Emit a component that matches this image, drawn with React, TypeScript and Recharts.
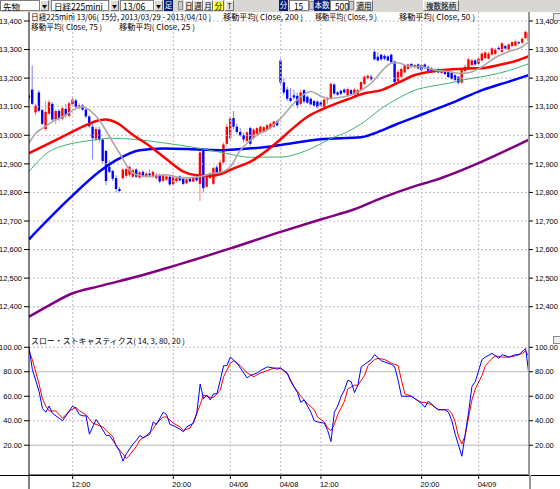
import React from 'react';
import { ComposedChart, Bar, Line, XAxis, YAxis, ReferenceLine } from 'recharts';

// ---- data ----
const timeTickIdx = [13, 43, 60, 75, 87, 117, 134];
const timeTickLabels = ['12:00', '20:00', '04/06', '04/08', '12:00', '20:00', '04/09'];
const priceTicks = [12400, 12500, 12600, 12700, 12800, 12900, 13000, 13100, 13200, 13300, 13400];
const stochTicks = [20, 40, 60, 80, 100];

const opens = [
  13140, 13160, 13080, 13150, 13088, 13022, 13076, 13110, 13055, 13085,
  13058, 13092, 13068, 13108, 13122, 13100, 13104, 13090, 13066, 13030,
  12988, 13020, 12985, 12945, 12890, 12875, 12850, 12812, 12850, 12858,
  12862, 12855, 12880, 12852, 12872, 12855, 12866, 12855, 12850, 12862,
  12840, 12845, 12855, 12828, 12840, 12856, 12850, 12832, 12848, 12838,
  12852, 12830, 12945, 12820, 12850, 12830, 12888, 12870, 12905, 12970,
  12990, 13060, 13030, 13012, 13000, 12980, 13025, 12990, 13005, 13010,
  13012, 13020, 13025, 13030, 13050,
  13262, 13185, 13160, 13130, 13140, 13138, 13110, 13158, 13135, 13128,
  13120, 13118, 13115, 13100, 13125, 13130, 13178, 13150, 13156, 13160,
  13140, 13158, 13142, 13145, 13158, 13180, 13200, 13205, 13292, 13275,
  13282, 13278, 13276, 13282, 13258, 13190, 13205, 13220, 13232, 13250,
  13238, 13248, 13246, 13248, 13240, 13234, 13230, 13232, 13218, 13228,
  13222, 13218, 13210, 13205, 13185, 13225, 13234, 13246, 13262, 13250,
  13262, 13270, 13268, 13282, 13285, 13306, 13292, 13312, 13300, 13312,
  13314, 13326, 13324, 13340, 13360,
];
const highs = [
  13150, 13245, 13112, 13158, 13092, 13120, 13125, 13116, 13090, 13092,
  13102, 13110, 13118, 13135, 13128, 13112, 13110, 13095, 13070, 13040,
  13030, 13030, 12990, 12950, 12912, 12880, 12860, 12820, 12885, 12888,
  12895, 12885, 12885, 12875, 12878, 12872, 12880, 12878, 12868, 12866,
  12866, 12862, 12858, 12862, 12855, 12860, 12855, 12850, 12852, 12858,
  12856, 12950, 12950, 12862, 12872, 12890, 12895, 12915, 12975, 13040,
  13065, 13085, 13040, 13025, 13010, 13015, 13030, 13025, 13030, 13035,
  13033, 13040, 13045, 13052, 13055,
  13268, 13200, 13170, 13165, 13160, 13150, 13160, 13162, 13140, 13132,
  13125, 13122, 13120, 13130, 13135, 13185, 13182, 13155, 13160, 13165,
  13168, 13162, 13166, 13162, 13190, 13210, 13214, 13212, 13298, 13290,
  13286, 13284, 13280, 13286, 13262, 13230, 13238, 13250, 13252, 13252,
  13250, 13252, 13250, 13252, 13244, 13238, 13234, 13236, 13232, 13232,
  13226, 13222, 13214, 13208, 13235, 13248, 13272, 13268, 13266, 13272,
  13290, 13295, 13292, 13308, 13306, 13312, 13326, 13316, 13322, 13330,
  13332, 13330, 13342, 13366, 13368,
];
const lows = [
  13120, 13105, 13070, 13080, 13036, 13015, 13070, 13048, 13040, 13050,
  13052, 13060, 13062, 13100, 13095, 13090, 13085, 13060, 13025, 12915,
  12980, 12975, 12900, 12826, 12868, 12840, 12800, 12800, 12845, 12850,
  12855, 12850, 12850, 12848, 12852, 12850, 12852, 12850, 12845, 12832,
  12835, 12840, 12822, 12825, 12835, 12838, 12826, 12828, 12835, 12835,
  12838, 12770, 12800, 12815, 12845, 12825, 12860, 12865, 12900, 12965,
  12985, 13020, 13005, 12995, 12975, 12975, 12962, 12985, 13000, 13005,
  13008, 13015, 13020, 13025, 13030,
  13175, 13140, 13120, 13115, 13125, 13094, 13105, 13112, 13110, 13105,
  13100, 13094, 13100, 13096, 13110, 13125, 13140, 13138, 13140, 13145,
  13136, 13140, 13138, 13140, 13155, 13176, 13195, 13190, 13262, 13258,
  13260, 13262, 13258, 13252, 13180, 13185, 13200, 13216, 13228, 13236,
  13234, 13230, 13222, 13232, 13222, 13220, 13218, 13216, 13214, 13210,
  13200, 13194, 13190, 13178, 13180, 13220, 13230, 13240, 13244, 13246,
  13258, 13266, 13265, 13278, 13280, 13296, 13288, 13300, 13296, 13308,
  13310, 13318, 13320, 13338, 13325,
];
const closes = [
  13130, 13110, 13104, 13086, 13040, 13082, 13116, 13055, 13085, 13058,
  13095, 13070, 13112, 13125, 13100, 13105, 13090, 13066, 13032, 12990,
  13022, 12985, 12910, 12840, 12872, 12848, 12812, 12805, 12880, 12882,
  12890, 12878, 12855, 12870, 12858, 12866, 12860, 12872, 12862, 12838,
  12860, 12856, 12828, 12855, 12850, 12842, 12830, 12846, 12838, 12852,
  12842, 12940, 12815, 12855, 12866, 12885, 12868, 12905, 12968, 13030,
  13058, 13030, 13012, 13000, 12985, 13010, 12970, 13020, 13025, 13030,
  13028, 13035, 13040, 13048, 13035,
  13185, 13150, 13128, 13120, 13132, 13105, 13150, 13118, 13114, 13108,
  13104, 13098, 13104, 13125, 13130, 13180, 13146, 13142, 13145, 13150,
  13162, 13145, 13160, 13158, 13186, 13205, 13208, 13196, 13266, 13262,
  13266, 13268, 13262, 13256, 13186, 13222, 13232, 13245, 13248, 13240,
  13246, 13234, 13228, 13236, 13226, 13224, 13222, 13220, 13228, 13214,
  13204, 13198, 13194, 13184, 13228, 13240, 13266, 13262, 13248, 13268,
  13286, 13290, 13286, 13304, 13300, 13300, 13322, 13304, 13318, 13326,
  13328, 13322, 13338, 13362, 13330,
];

const ma200: [number, number][] = [
  [0, 12365], [6, 12405], [13, 12447], [21, 12472], [34, 12511], [43, 12542], [60, 12604],
  [75, 12662], [88, 12709], [97, 12741], [105, 12780], [115, 12822], [121, 12843],
  [135, 12908], [149, 12985],
];
const ma75: [number, number][] = [
  [0, 12636], [12, 12778], [21, 12873], [26, 12913], [33, 12948], [40, 12954], [51, 12950],
  [57, 12948], [63, 12952], [70, 12958], [75, 12966], [87, 12986], [99, 12993], [103, 13007],
  [109, 13036], [118, 13077], [127, 13118], [135, 13158], [143, 13188], [149, 13211],
];
const ma50: [number, number][] = [
  [0, 12937], [6, 12972], [11, 13001], [16, 13030], [21, 13053], [23, 13055], [26, 13044],
  [31, 13001], [36, 12962], [41, 12916], [46, 12873], [50, 12860], [54, 12858], [58, 12868],
  [61, 12884], [66, 12908], [71, 12948], [75, 12986], [78, 13018], [83, 13065], [88, 13094],
  [95, 13126], [100, 13147], [105, 13158], [110, 13184], [115, 13211], [121, 13225],
  [126, 13231], [131, 13234], [135, 13235], [140, 13246], [145, 13260], [149, 13277],
];
const ma25: [number, number][] = [
  [0, 12873], [6, 12943], [11, 12966], [16, 12978], [21, 12986], [24, 12990], [31, 12986],
  [41, 12972], [51, 12954], [56, 12943], [61, 12931], [66, 12923], [75, 12924], [83, 12948],
  [90, 12989], [95, 13013], [100, 13048], [105, 13094], [110, 13129], [115, 13158],
  [120, 13172], [125, 13182], [129, 13193], [135, 13205], [140, 13217], [145, 13234], [149, 13251],
];
const ma9: [number, number][] = [
  [0, 12972], [2, 13007], [4, 13024], [7, 13048], [11, 13071], [14, 13094], [16, 13100],
  [18, 13088], [21, 13053], [24, 12995], [27, 12937], [30, 12879], [32, 12862], [36, 12856],
  [41, 12862], [46, 12850], [51, 12856], [55, 12867], [57, 12870], [60, 12890], [63, 12948],
  [65, 12972], [68, 13001], [71, 13018], [75, 13059], [78, 13100], [81, 13135], [84, 13153],
  [87, 13137], [90, 13129], [93, 13133], [96, 13141], [99, 13158], [102, 13182], [105, 13223],
  [108, 13252], [110, 13254], [113, 13242], [117, 13240], [121, 13228], [125, 13223],
  [128, 13217], [131, 13219], [135, 13240], [139, 13272], [143, 13293], [147, 13310], [149, 13328],
];

const stochK: [number, number][] = [
  [0, 100], [1, 82], [3, 64], [4, 50], [5, 47], [6, 52], [7, 46], [9, 42], [10, 40], [11, 44],
  [13, 52], [14, 50], [15, 45], [16, 44], [17, 44], [18, 29], [19, 35], [20, 41], [21, 37],
  [23, 28], [24, 28], [26, 20], [27, 15], [28, 7], [29, 13], [31, 21], [32, 24], [33, 28],
  [34, 26], [36, 29], [37, 39], [38, 37], [40, 47], [41, 45], [42, 37], [43, 36], [45, 33],
  [46, 31], [47, 35], [49, 38], [50, 46], [51, 70], [52, 58], [53, 61], [54, 57], [55, 62],
  [56, 62], [57, 73], [58, 85], [59, 85], [60, 92], [62, 87], [63, 83], [65, 75], [66, 77],
  [68, 79], [69, 81], [71, 84], [73, 83], [74, 83], [75, 83], [77, 79], [78, 72], [80, 63],
  [81, 55], [82, 57], [84, 47], [85, 40], [86, 39], [88, 38], [89, 32], [90, 23], [91, 47],
  [92, 52], [93, 60], [94, 65], [95, 73], [96, 72], [97, 63], [98, 69], [99, 84], [101, 88],
  [102, 90], [103, 94], [105, 89], [106, 88], [108, 86], [109, 84], [110, 73], [111, 60],
  [113, 60], [114, 60], [116, 56], [117, 54], [118, 51], [119, 56], [121, 51], [122, 49],
  [124, 49], [125, 47], [126, 40], [127, 29], [129, 11], [130, 29], [131, 47], [132, 68],
  [133, 72], [134, 81], [135, 90], [136, 92], [138, 95], [140, 91], [141, 94], [143, 92],
  [145, 94], [146, 94], [148, 99], [149, 77],
];
const stochD: [number, number][] = [
  [0, 97], [1, 90], [3, 70], [4, 58], [5, 52], [6, 48], [8, 48], [10, 42], [12, 48], [14, 51],
  [15, 48], [17, 45], [19, 38], [20, 37], [22, 35], [23, 32], [25, 27], [26, 19], [28, 13],
  [29, 9], [30, 12], [32, 19], [33, 24], [35, 28], [37, 33], [38, 38], [40, 43], [41, 43],
  [43, 38], [45, 35], [46, 32], [48, 34], [49, 39], [51, 53], [52, 61], [54, 59], [55, 59],
  [57, 65], [58, 76], [60, 87], [61, 89], [63, 85], [65, 79], [67, 76], [69, 79], [71, 81],
  [73, 83], [74, 82], [75, 83], [77, 78], [79, 68], [81, 60], [83, 54], [85, 49], [86, 43],
  [88, 39], [89, 34], [90, 32], [91, 37], [92, 45], [94, 56], [95, 66], [97, 69], [98, 69],
  [100, 77], [101, 85], [103, 90], [104, 91], [106, 90], [108, 87], [110, 85], [111, 73],
  [112, 62], [114, 60], [115, 58], [117, 55], [118, 55], [120, 53], [122, 49], [123, 49],
  [125, 49], [126, 46], [127, 39], [128, 27], [129, 21], [130, 28], [131, 43], [132, 57],
  [133, 66], [135, 77], [136, 85], [138, 91], [139, 93], [141, 92], [143, 92], [145, 93],
  [147, 95], [148, 97], [149, 92],
];

// ---- tables ----
const toMap = (arr: [number, number][]) => new Map(arr.map(([i, v]) => [i, v]));
const m200 = toMap(ma200), m75 = toMap(ma75), m50 = toMap(ma50), m25 = toMap(ma25), m9 = toMap(ma9);
const mk = toMap(stochK), md = toMap(stochD);

const rows = closes.map((c, i) => ({
  i,
  o: opens[i], h: highs[i], l: lows[i], c,
  range: [lows[i], highs[i]],
  ma200: m200.get(i) ?? null,
  ma75: m75.get(i) ?? null,
  ma50: m50.get(i) ?? null,
  ma25: m25.get(i) ?? null,
  ma9: m9.get(i) ?? null,
}));
const stochRows = closes.map((_, i) => ({ i, k: mk.get(i) ?? null, d: md.get(i) ?? null }));

// ---- styling helpers ----
const GRID = '#c4b6cc';
const AX_FONT = 'Liberation Sans, Arial, sans-serif';
const JP_FONT = '"Noto Sans CJK JP", sans-serif';
const fmtPrice = (v: number) => v.toLocaleString('en-US');

const Candle = (props: any) => {
  const { x, y, width, height, payload } = props;
  if (!payload || x == null) return null;
  const top = Math.min(y, y + height);
  const bot = Math.max(y, y + height);
  const { o, h, l, c } = payload;
  const span = h - l;
  const px = (v: number) => (span > 0 ? top + ((h - v) / span) * (bot - top) : top);
  const cx = x + width / 2;
  const up = c >= o;
  const col = up ? '#ff0000' : '#0000ff';
  const bt = px(Math.max(o, c));
  const bb = px(Math.min(o, c));
  return (
    <g>
      <line x1={cx} x2={cx} y1={top} y2={bot} stroke={col} strokeOpacity={0.5} strokeWidth={1} />
      <rect x={cx - 1.2} y={bt} width={2.4} height={Math.max(1, bb - bt)} fill={col} />
    </g>
  );
};

const TimeTick = (props: any) => {
  const { x, y, payload } = props;
  const idx = timeTickIdx.indexOf(payload.value);
  return (
    <text x={x - 1} y={y + 6} fontSize={7.5} fontFamily={AX_FONT} fill="#000" textAnchor="start">
      {timeTickLabels[idx]}
    </text>
  );
};

const box = (x: number, w: number, bg: string, extra: any = {}) => ({
  position: 'absolute' as const, left: x, top: 0, width: w, height: 11, background: bg,
  boxSizing: 'border-box' as const, fontSize: 8, lineHeight: '10px', fontFamily: JP_FONT,
  overflow: 'visible', whiteSpace: 'nowrap' as const, padding: 0, ...extra,
});
const field = (x: number, w: number) => box(x, w, '#fff', { border: '1px solid #7f7f7f', paddingLeft: 2, color: '#000', fontSize: 8.5 });
const btn = (x: number, w: number, bg = '#e4e2de') => box(x, w, bg, { border: '1px solid', borderColor: '#fff #6f6f6f #6f6f6f #fff', textAlign: 'center', color: '#000', fontSize: 7.5 });
const navy = (x: number, w: number) => box(x, w, '#0a1f78', { color: '#fff', textAlign: 'center', fontSize: 7.5 });
const arrow = (x: number) => box(x, 9, '#dcdad6', { border: '1px solid', borderColor: '#fff #6f6f6f #6f6f6f #fff', fontSize: 5, lineHeight: '9px', textAlign: 'center', color: '#000' });
const spin = (x: number) => box(x, 5, '#cfcdc9', { border: '1px solid #8a8a8a', top: 1, height: 9 });

const Toolbar = () => (
  <div style={{ position: 'absolute', left: 0, top: 0, width: 560, height: 12, background: '#d9d7d3' }}>
    <div style={field(0, 40)}>先物</div>
    <div style={arrow(40)}>▼</div>
    <div style={field(51, 58)}>日経225mini</div>
    <div style={arrow(110)}>▼</div>
    <div style={field(120, 34)}>13/06</div>
    <div style={arrow(154)}>▼</div>
    <div style={navy(164, 9)}>足</div>
    <div style={spin(178)} />
    <div style={btn(184, 9)}>日</div>
    <div style={btn(193, 10)}>週</div>
    <div style={btn(203, 10)}>月</div>
    <div style={btn(213, 11, '#ffff33')}>分</div>
    <div style={btn(225, 9)}>T</div>
    <div style={navy(279, 9)}>分</div>
    <div style={field(289, 20)}>&nbsp;15</div>
    <div style={spin(309)} />
    <div style={navy(314, 16)}>本数</div>
    <div style={field(330, 19)}>&nbsp;500</div>
    <div style={spin(349)} />
    <div style={btn(355, 18)}>適用</div>
    <div style={btn(423, 36)}>複数銘柄</div>
  </div>
);

const legendRow1: [string, number, number][] = [
  ['日経225mini 13/06( 15分, 2013/03/29 - 2013/04/10 )', 31, 180],
  ['移動平均( Close, 200 )', 223, 80],
  ['移動平均( Close, 9 )', 315, 62],
  ['移動平均( Close, 50 )', 399, 76],
];
const legendRow2: [string, number, number][] = [
  ['移動平均( Close, 75 )', 31, 71],
  ['移動平均( Close, 25 )', 119, 76],
];

export default function App() {
  const lineProps = { yAxisId: 'L', dot: false, activeDot: false, connectNulls: true, isAnimationActive: false } as any;
  return (
    <div style={{ position: 'absolute', left: 0, top: 0, width: 560, height: 489, background: '#fff', overflow: 'hidden' }}>
      <Toolbar />
      <div style={{ position: 'absolute', left: 0, top: 12 }}>
        <ComposedChart width={560} height={318} data={rows} margin={{ top: 0, right: 0, bottom: 0, left: 0 }}>
          <XAxis dataKey="i" type="number" domain={[0, 149]} hide allowDataOverflow />
          <YAxis yAxisId="L" orientation="left" width={29} domain={[12318.5, 13431.5]} ticks={priceTicks}
            allowDataOverflow interval={0} tickFormatter={fmtPrice} tickSize={5} tickMargin={2}
            tick={{ fontSize: 7.5, fill: '#000', fontFamily: AX_FONT }} axisLine={{ stroke: '#000' }} tickLine={{ stroke: '#000' }} />
          <YAxis yAxisId="R" orientation="right" width={31} domain={[12318.5, 13431.5]} ticks={priceTicks}
            allowDataOverflow interval={0} tickFormatter={fmtPrice} tickSize={4} tickMargin={2}
            tick={{ fontSize: 7.5, fill: '#000', fontFamily: AX_FONT }} axisLine={{ stroke: '#9a9a9a', strokeWidth: 2 }} tickLine={{ stroke: '#000' }} />
          {priceTicks.map((t) => (
            <ReferenceLine key={'h' + t} yAxisId="L" y={t} stroke={GRID} strokeDasharray="2 2" />
          ))}
          {timeTickIdx.map((t) => (
            <ReferenceLine key={'v' + t} yAxisId="L" x={t} stroke={GRID} strokeDasharray="2 2" />
          ))}
          <Line {...lineProps} dataKey="ma200" type="monotone" stroke="#800080" strokeWidth={2.5} />
          <Line {...lineProps} dataKey="ma75" type="monotone" stroke="#0000ff" strokeWidth={2.5} />
          <Line {...lineProps} dataKey="ma25" type="monotone" stroke="#3cb371" strokeWidth={1} />
          <Line {...lineProps} dataKey="ma50" type="monotone" stroke="#ff0000" strokeWidth={2.5} />
          <Bar yAxisId="L" dataKey="range" barSize={3} shape={<Candle />} isAnimationActive={false} />
          <Line {...lineProps} dataKey="ma9" type="monotone" stroke="#a8a8a8" strokeWidth={1.6} />
        </ComposedChart>
      </div>
      <div style={{ position: 'absolute', left: 0, top: 330 }}>
        <ComposedChart width={560} height={159} data={stochRows} margin={{ top: 0, right: 0, bottom: 0, left: 0 }}>
          <XAxis dataKey="i" type="number" domain={[0, 149]} ticks={timeTickIdx} interval={0} height={14}
            tickSize={4} tick={<TimeTick />} axisLine={{ stroke: '#000' }} tickLine={{ stroke: '#000' }} allowDataOverflow />
          <YAxis yAxisId="L" orientation="left" width={29} domain={[-4.33, 114.13]} ticks={stochTicks}
            allowDataOverflow interval={0} tickFormatter={(v: number) => v.toFixed(2)} tickSize={5} tickMargin={2}
            tick={{ fontSize: 7.5, fill: '#000', fontFamily: AX_FONT }} axisLine={{ stroke: '#000' }} tickLine={{ stroke: '#000' }} />
          <YAxis yAxisId="R" orientation="right" width={31} domain={[-4.33, 114.13]} ticks={stochTicks}
            allowDataOverflow interval={0} tickFormatter={(v: number) => v.toFixed(2)} tickSize={4} tickMargin={2}
            tick={{ fontSize: 7.5, fill: '#000', fontFamily: AX_FONT }} axisLine={{ stroke: '#9a9a9a', strokeWidth: 2 }} tickLine={{ stroke: '#000' }} />
          {stochTicks.map((t) => (
            t === 80 || t === 20
              ? <ReferenceLine key={'h' + t} yAxisId="L" y={t} stroke="#b8b8b8" />
              : <ReferenceLine key={'h' + t} yAxisId="L" y={t} stroke={GRID} strokeDasharray="2 2" />
          ))}
          {timeTickIdx.map((t) => (
            <ReferenceLine key={'v' + t} yAxisId="L" x={t} stroke={GRID} strokeDasharray="2 2" />
          ))}
          <Line {...lineProps} dataKey="d" type="linear" stroke="#ff0000" strokeWidth={1} />
          <Line {...lineProps} dataKey="k" type="linear" stroke="#0000ff" strokeWidth={1} />
        </ComposedChart>
      </div>
      <svg width={560} height={489} style={{ position: 'absolute', left: 0, top: 0, pointerEvents: 'none' }}>
        {legendRow1.map(([t, x, w]) => (
          <text key={t} x={x} y={20} fontSize={8} fontFamily={JP_FONT} fill="#000" textLength={w} lengthAdjust="spacingAndGlyphs">{t}</text>
        ))}
        {legendRow2.map(([t, x, w]) => (
          <text key={t} x={x} y={29.5} fontSize={8} fontFamily={JP_FONT} fill="#000" textLength={w} lengthAdjust="spacingAndGlyphs">{t}</text>
        ))}
        <text x={31} y={344} fontSize={8} fontFamily={JP_FONT} fill="#000" textLength={154} lengthAdjust="spacingAndGlyphs">スロー・ストキャスティクス( 14, 3, 80, 20 )</text>
        <line x1={0} x2={560} y1={475.5} y2={475.5} stroke="#000" />
        <line x1={29} x2={29} y1={475} y2={489} stroke="#000" />
        <line x1={530} x2={530} y1={475} y2={489} stroke="#9a9a9a" strokeWidth={2} />
        <rect x={553.5} y={13.5} width={7} height={7} fill="#eee" stroke="#888" />
        <rect x={553.5} y={336.5} width={7} height={7} fill="#eee" stroke="#888" />
      </svg>
    </div>
  );
}
